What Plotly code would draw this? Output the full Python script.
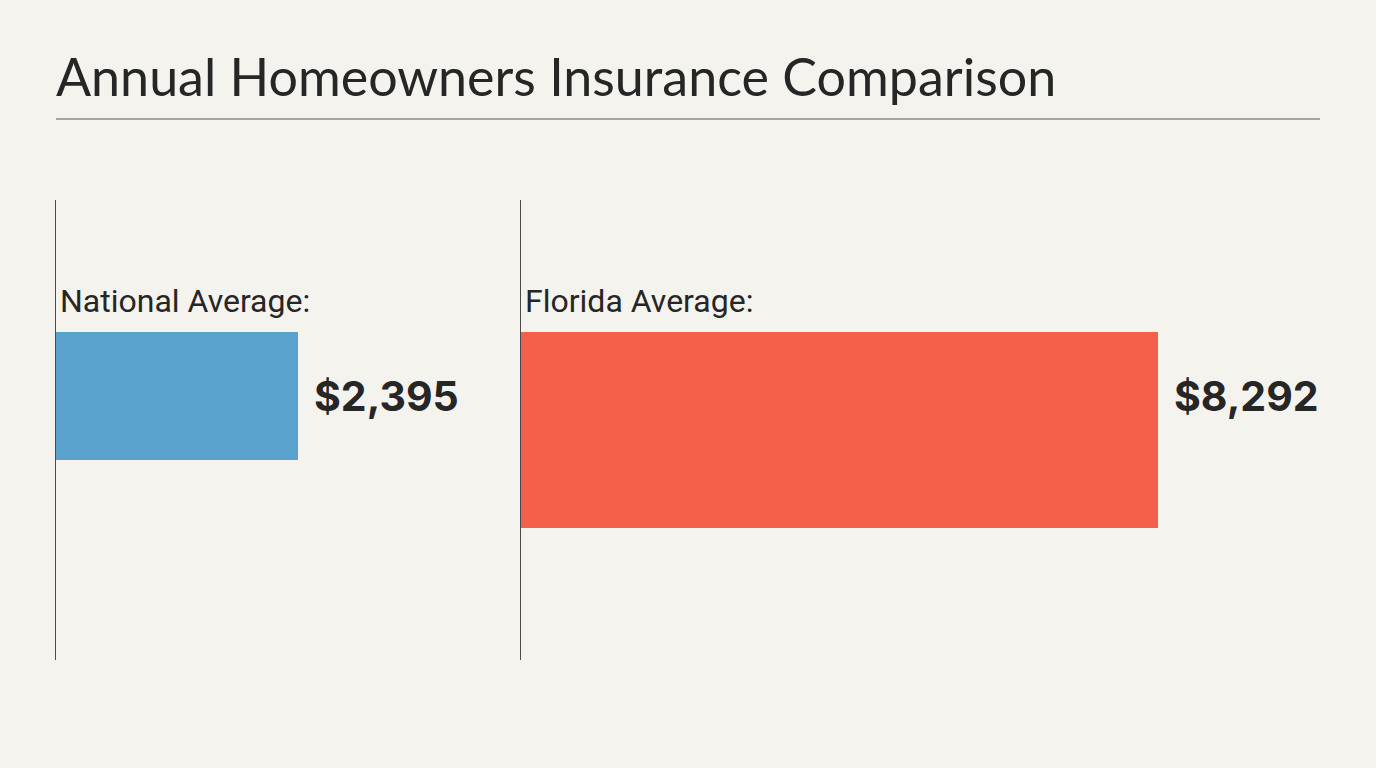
import plotly.graph_objects as go

# Data
categories = ["National Average:", "Florida Average:"]
values = [2395, 8292]
value_labels = ["$2,395", "$8,292"]
bar_colors = ["#5BA3CF", "#F5604A"]

title_text = "Annual Homeowners Insurance Comparison"

W, H = 1376, 768
BG = "#F5F3EE"
TXT = "#262626"

# Layout geometry (pixel-based)
panels = [
    dict(x0=56, x1=486, xmax=4256, yc=0.426, bw=0.278),
    dict(x0=521, x1=1320, xmax=10400, yc=0.5, bw=0.426),
]
label_y = 0.426
y_top_px, y_bot_px = 200, 660

fig = go.Figure()
annotations = []
for i, (cat, val, lab, col, p) in enumerate(zip(categories, values, value_labels, bar_colors, panels)):
    xa = "x" if i == 0 else "x2"
    ya = "y" if i == 0 else "y2"
    fig.add_trace(go.Bar(
        x=[val], y=[p["yc"]], width=[p["bw"]], base=0, orientation="h",
        marker=dict(color=col, line=dict(width=0)),
        xaxis=xa, yaxis=ya, hoverinfo="skip", showlegend=False,
    ))
    top = p["yc"] - p["bw"] / 2
    annotations.append(dict(
        x=0, y=top, xref=xa, yref=ya, text=cat, showarrow=False,
        xanchor="left", yanchor="bottom", xshift=2, yshift=10,
        font=dict(family="Roboto", size=32, color=TXT),
    ))
    annotations.append(dict(
        x=val, y=label_y, xref=xa, yref=ya, text=f"<b>{lab}</b>", showarrow=False,
        xanchor="left", yanchor="middle", xshift=14,
        font=dict(family="Inter", size=41, color=TXT),
    ))

annotations.append(dict(
    x=54 / W, y=1 - 76 / H, xref="paper", yref="paper", text=title_text,
    showarrow=False, xanchor="left", yanchor="middle",
    font=dict(family="Lato", size=52, color=TXT),
))

ydom = [(H - y_bot_px) / H, (H - y_top_px) / H]
axis_y = dict(range=[1, 0], showgrid=False, zeroline=False, showticklabels=False,
              ticks="", showline=True, linecolor="#4A4A4A", linewidth=1, fixedrange=True)
axis_x = dict(showgrid=False, zeroline=False, showticklabels=False, ticks="",
              showline=False, fixedrange=True)

fig.update_layout(
    width=W, height=H,
    paper_bgcolor=BG, plot_bgcolor=BG,
    margin=dict(l=0, r=0, t=0, b=0),
    xaxis=dict(domain=[panels[0]["x0"] / W, panels[0]["x1"] / W], range=[0, panels[0]["xmax"]], anchor="y", **axis_x),
    xaxis2=dict(domain=[panels[1]["x0"] / W, panels[1]["x1"] / W], range=[0, panels[1]["xmax"]], anchor="y2", **axis_x),
    yaxis=dict(domain=ydom, anchor="x", **axis_y),
    yaxis2=dict(domain=ydom, anchor="x2", **axis_y),
    annotations=annotations,
    shapes=[dict(type="line", xref="paper", yref="paper",
                 x0=56 / W, x1=1320 / W, y0=1 - 119 / H, y1=1 - 119 / H,
                 line=dict(color="#8A8A86", width=1.5))],
    bargap=0,
)

fig.write_html("out.html", config={"displayModeBar": False})
